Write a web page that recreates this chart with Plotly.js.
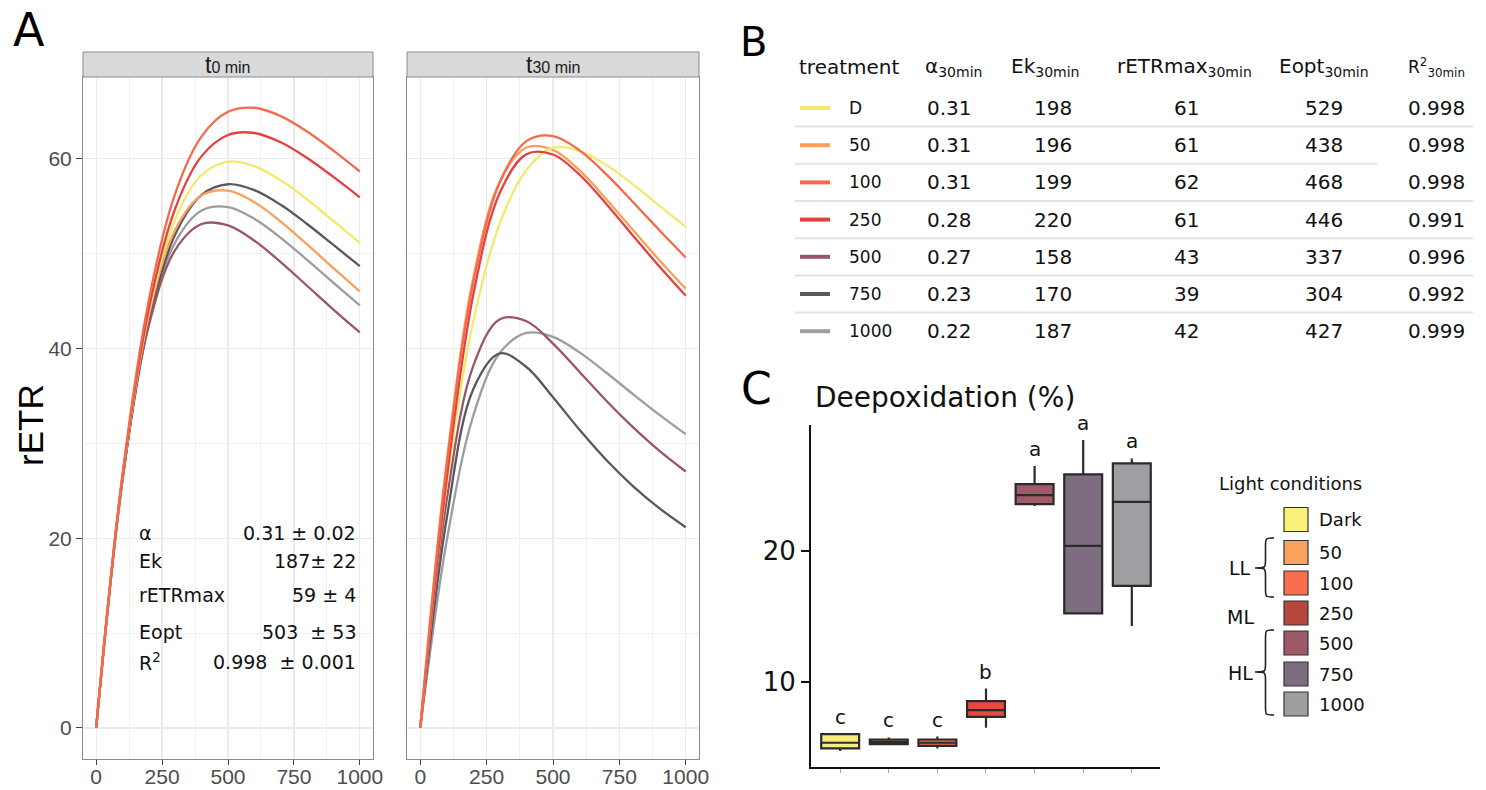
<!DOCTYPE html>
<html>
<head>
<meta charset="utf-8">
<script src="https://cdn.plot.ly/plotly-3.0.1.min.js"></script>
<style>html,body{margin:0;padding:0;background:#fff;}#chart{width:1486px;height:790px;}</style>
</head>
<body>
<div id="chart"></div>
<script>
// ---------- DATA ----------
// Panel A: light curves (rETR vs irradiance)
const irradiance = [0, 100, 200, 300, 400, 500, 600, 700, 800, 900, 1000];
const treatments = ['D', '50', '100', '250', '500', '750', '1000'];
const t0_D    = [0, 26.50, 43.83, 53.64, 58.27, 59.68, 59.21, 57.71, 55.69, 53.43, 51.11];
const t0_50   = [0, 26.58, 43.55, 52.51, 56.13, 56.62, 55.41, 53.36, 50.96, 48.46, 46.00];
const t0_100  = [0, 26.81, 45.14, 56.34, 62.35, 64.93, 65.36, 64.48, 62.86, 60.84, 58.64];
const t0_250  = [0, 26.51, 44.22, 54.76, 60.26, 62.49, 62.70, 61.72, 60.07, 58.07, 55.92];
const t0_500  = [0, 26.30, 42.44, 50.38, 53.11, 52.96, 51.35, 49.09, 46.60, 44.09, 41.69];
const t0_750  = [0, 26.18, 42.85, 52.02, 56.18, 57.30, 56.68, 55.13, 53.11, 50.90, 48.66];
const t0_1000 = [0, 26.27, 42.70, 51.19, 54.53, 54.89, 53.66, 51.65, 49.32, 46.91, 44.54];
const t30_D    = [0, 25.80, 42.90, 53.20, 58.80, 61.15, 60.79, 59.34, 57.32, 55.04, 52.80];
const t30_50   = [0, 28.17, 47.51, 57.62, 61.17, 60.92, 58.75, 55.75, 52.52, 49.32, 46.30];
const t30_100  = [0, 27.82, 46.97, 57.52, 61.84, 62.38, 60.87, 58.37, 55.46, 52.48, 49.58];
const t30_250  = [0, 26.36, 45.71, 56.43, 60.46, 60.43, 58.30, 55.25, 51.93, 48.65, 45.55];
const t30_500  = [0, 24.10, 38.19, 43.08, 42.86, 40.51, 37.52, 34.51, 31.73, 29.23, 27.03];
const t30_750  = [0, 22.15, 35.73, 39.48, 38.04, 34.85, 31.42, 28.27, 25.52, 23.17, 21.16];
const t30_1000 = [0, 19.78, 32.95, 39.54, 41.63, 41.22, 39.58, 37.46, 35.21, 33.02, 30.96];
const statLabels = ['α', 'Ek', 'rETRmax', 'Eopt', 'R<sup>2</sup>'];
const statValues = ['0.31 ± 0.02', '187± 22', '59 ± 4', '503\u00a0\u00a0± 53', '0.998\u00a0\u00a0± 0.001'];

// Panel B: table
const alpha30  = [0.31, 0.31, 0.31, 0.28, 0.27, 0.23, 0.22];
const ek30     = [198, 196, 199, 220, 158, 170, 187];
const retrmax30 = [61, 61, 62, 61, 43, 39, 42];
const eopt30   = [529, 438, 468, 446, 337, 304, 427];
const r2_30    = [0.998, 0.998, 0.998, 0.991, 0.996, 0.992, 0.999];

// Panel C: deepoxidation boxplots
const lightConditions = ['Dark', '50', '100', '250', '500', '750', '1000'];
const deQ1     = [4.92, 5.24, 5.11, 7.33, 23.56, 15.22, 17.33];
const deMedian = [5.35, 5.42, 5.35, 7.84, 24.25, 20.38, 23.74];
const deQ3     = [6.01, 5.60, 5.60, 8.53, 25.09, 25.83, 26.67];
const deLow    = [4.73, 5.24, 4.92, 6.49, 23.41, 15.22, 14.27];
const deHigh   = [6.01, 5.76, 5.82, 9.49, 26.47, 28.45, 27.05];
const sigLetters = ['c', 'c', 'c', 'b', 'a', 'a', 'a'];

// ---------- STYLE ----------
const W = 1486, H = 790;
const fx = p => p / W;
const fy = p => 1 - p / H;
const lineColors = ['#F3E96A', '#F8A15C', '#F46A4C', '#E5403F', '#9B5565', '#58585E', '#9D9DA1'];
const boxColors  = ['#F7EE7E', '#F8A25F', '#F7704F', '#E8483F', '#A15A69', '#7E6D80', '#9E9EA3'];
const keyColors  = ['#FAF07A', '#F9A35E', '#F86F4F', '#B4473E', '#9E5A68', '#7D6D7E', '#9E9EA2'];
const t0Series  = [t0_D, t0_50, t0_100, t0_250, t0_500, t0_750, t0_1000];
const t30Series = [t30_D, t30_50, t30_100, t30_250, t30_500, t30_750, t30_1000];
const FA = 'Liberation Sans, Arial, sans-serif';
const FD = 'DejaVu Sans, sans-serif';

const traces = [];
const drawOrder = [6, 5, 4, 1, 0, 3, 2];
drawOrder.forEach(i => {
  traces.push({type: 'scatter', mode: 'lines', x: irradiance, y: t0Series[i], xaxis: 'x', yaxis: 'y',
    line: {color: lineColors[i], width: 2.3, shape: 'spline', smoothing: 1}, hoverinfo: 'skip', name: treatments[i]});
  traces.push({type: 'scatter', mode: 'lines', x: irradiance, y: t30Series[i], xaxis: 'x2', yaxis: 'y2',
    line: {color: lineColors[i], width: 2.3, shape: 'spline', smoothing: 1}, hoverinfo: 'skip', name: treatments[i]});
});
lightConditions.forEach((c, i) => {
  traces.push({type: 'box', x: [i], q1: [deQ1[i]], median: [deMedian[i]], q3: [deQ3[i]],
    lowerfence: [deLow[i]], upperfence: [deHigh[i]], xaxis: 'x3', yaxis: 'y3',
    fillcolor: boxColors[i], line: {color: '#2B2B2B', width: 2.2}, width: 0.78, whiskerwidth: 0,
    boxpoints: false, hoverinfo: 'skip', name: c});
});

const gridA = {showgrid: true, gridcolor: '#EBEBEB', gridwidth: 1.3, zeroline: false,
  showline: true, mirror: true, linecolor: '#8A8A8A', linewidth: 1,
  ticks: 'outside', ticklen: 6, tickcolor: '#444', tickwidth: 1,
  tickfont: {family: FA, size: 21, color: '#4D4D4D'}};

const layout = {
  width: W, height: H, margin: {l: 0, r: 0, t: 0, b: 0},
  paper_bgcolor: '#fff', plot_bgcolor: '#fff', showlegend: false, boxmode: 'overlay',
  xaxis: Object.assign({}, gridA, {domain: [fx(83), fx(373)], range: [-50, 1050], anchor: 'y', ticklen: 5,
    ticklabelstandoff: -6,
    tickvals: [0, 250, 500, 750, 1000], minor: {dtick: 125, tick0: 0, showgrid: true, gridcolor: '#F1F1F1', gridwidth: 1}}),
  yaxis: Object.assign({}, gridA, {domain: [fy(759), fy(77)], range: [-3.27, 68.6], anchor: 'x',
    tickvals: [0, 20, 40, 60], minor: {dtick: 10, tick0: 0, showgrid: true, gridcolor: '#F1F1F1', gridwidth: 1}}),
  xaxis2: Object.assign({}, gridA, {domain: [fx(407), fx(699)], range: [-50, 1050], anchor: 'y2', ticklen: 5,
    ticklabelstandoff: -6,
    tickvals: [0, 250, 500, 750, 1000], minor: {dtick: 125, tick0: 0, showgrid: true, gridcolor: '#F1F1F1', gridwidth: 1}}),
  yaxis2: Object.assign({}, gridA, {domain: [fy(759), fy(77)], range: [-3.27, 68.6], anchor: 'x2',
    tickvals: [0, 20, 40, 60], ticks: '', showticklabels: false,
    minor: {dtick: 10, tick0: 0, showgrid: true, gridcolor: '#F1F1F1', gridwidth: 1}}),
  xaxis3: {domain: [fx(811), fx(1160)], range: [-0.6, 6.58], anchor: 'y3', showgrid: false, zeroline: false,
    showline: true, linecolor: '#111', linewidth: 2, tickvals: [0, 1, 2, 3, 4, 5, 6], ticks: 'outside',
    ticklen: 4, tickcolor: '#AAA', showticklabels: false},
  yaxis3: {domain: [fy(767), fy(425)], range: [3.5, 29.6], anchor: 'x3', showgrid: false, zeroline: false,
    showline: true, linecolor: '#111', linewidth: 2, tickvals: [10, 20], ticks: 'outside', ticklen: 8,
    tickwidth: 2, tickcolor: '#111', tickfont: {family: FD, size: 26, color: '#111'}},
  shapes: [], annotations: []
};

function ann(text, x, y, o) {
  layout.annotations.push(Object.assign({text: text, x: fx(x), y: fy(y), xref: 'paper', yref: 'paper',
    showarrow: false, xanchor: 'center', yanchor: 'middle', font: {family: FD, size: 20, color: '#111'}}, o || {}));
}
function rect(x0, y0, x1, y1, fill, lc, lw) {
  layout.shapes.push({type: 'rect', xref: 'paper', yref: 'paper', x0: fx(x0), x1: fx(x1), y0: fy(y1), y1: fy(y0),
    fillcolor: fill, line: {color: lc, width: lw}, layer: 'above'});
}
function seg(x0, y0, x1, y1, c, w) {
  layout.shapes.push({type: 'line', xref: 'paper', yref: 'paper', x0: fx(x0), x1: fx(x1), y0: fy(y0), y1: fy(y1),
    line: {color: c, width: w}, layer: 'above'});
}
function brace(xr, xt, yTop, yMid, yBot) {
  const xm = (xr + xt) / 2 + 1, r = 8;
  const P = (x, y) => fx(x) + ',' + fy(y);
  const d = 'M ' + P(xr, yTop) + ' C ' + P(xm, yTop) + ' ' + P(xm, yTop) + ' ' + P(xm, yTop + r) +
    ' L ' + P(xm, yMid - r) + ' C ' + P(xm, yMid) + ' ' + P(xm, yMid) + ' ' + P(xt, yMid) +
    ' C ' + P(xm, yMid) + ' ' + P(xm, yMid) + ' ' + P(xm, yMid + r) +
    ' L ' + P(xm, yBot - r) + ' C ' + P(xm, yBot) + ' ' + P(xm, yBot) + ' ' + P(xr, yBot);
  layout.shapes.push({type: 'path', xref: 'paper', yref: 'paper', path: d, line: {color: '#222', width: 1.6}});
}

// ---- Panel A decorations ----
ann('A', 29, 30, {font: {family: FD, size: 46, color: '#000'}});
ann('rETR', 30, 425, {textangle: -90, font: {family: FA, size: 35, color: '#000'}});
rect(83, 52, 373, 77, '#D9D9D9', '#8A8A8A', 1);
rect(407, 52, 699, 77, '#D9D9D9', '#8A8A8A', 1);
ann("t<span style='font-size:16px'>0 min</span>", 228, 65, {font: {family: FA, size: 23, color: '#1A1A1A'}});
ann("t<span style='font-size:16px'>30 min</span>", 553, 65, {font: {family: FA, size: 23, color: '#1A1A1A'}});
const statY = [533, 561, 595, 632, 662];
statLabels.forEach((s, i) => {
  ann(s, 137, statY[i], {xanchor: 'left', font: {family: FD, size: 19, color: '#111'}});
  ann(statValues[i], 358, statY[i], {xanchor: 'right', font: {family: FD, size: 19, color: '#111'}});
});

// ---- Panel B table ----
ann('B', 754, 42, {font: {family: FD, size: 40, color: '#000'}});
ann('treatment', 797, 67, {xanchor: 'left', font: {family: FD, size: 20, color: '#111'}});
const colX = [953, 1045, 1184, 1324, 1436];
const headers = ['α<sub>30min</sub>', 'Ek<sub>30min</sub>', 'rETRmax<sub>30min</sub>', 'Eopt<sub>30min</sub>', 'R<sup>2</sup><sub>30min</sub>'];
headers.forEach((h, j) => ann(h, colX[j], 67, {font: {family: FD, size: j === 4 ? 17 : 20, color: '#111'}}));
const rowY = treatments.map((t, i) => 108 + 37.2 * i);
treatments.forEach((t, i) => {
  const y = rowY[i];
  seg(800, y, 830, y, lineColors[i], 4);
  ann(t, 847, y, {xanchor: 'left', font: {family: FD, size: 17, color: '#111'}});
  ann(alpha30[i].toFixed(2), colX[0] - 4, y, {});
  ann(String(ek30[i]), 1053, y, {});
  ann(String(retrmax30[i]), 1186, y, {});
  ann(String(eopt30[i]), colX[3], y, {});
  ann(r2_30[i].toFixed(3), colX[4], y, {});
  if (i < treatments.length - 1) {
    const ly = y + 18.6;
    seg(795, ly, i === 1 ? 1377 : 1473, ly, '#E4E4E4', 2);
  }
});

// ---- Panel C ----
ann('C', 756, 389, {font: {family: FD, size: 44, color: '#000'}});
ann('Deepoxidation (%)', 945, 397, {font: {family: FD, size: 28, color: '#111'}});
sigLetters.forEach((l, i) => {
  layout.annotations.push({text: l, x: i, y: deHigh[i], xref: 'x3', yref: 'y3', showarrow: false,
    yanchor: 'bottom', yshift: 3, font: {family: FD, size: 20, color: '#111'}});
});
ann('Light conditions', 1217, 483, {xanchor: 'left', font: {family: FD, size: 18, color: '#111'}});
const keyY = [519.5, 552.5, 583, 613, 643, 674, 704];
lightConditions.forEach((c, i) => {
  rect(1284, keyY[i] - 12, 1308, keyY[i] + 12, keyColors[i], '#333', 1.2);
  ann(c, 1317, keyY[i], {xanchor: 'left', font: {family: FD, size: 18, color: '#111'}});
});
ann('LL', 1240, 568, {font: {family: FD, size: 19, color: '#111'}});
ann('ML', 1240, 617, {font: {family: FD, size: 19, color: '#111'}});
ann('HL', 1240, 673, {font: {family: FD, size: 19, color: '#111'}});
brace(1274, 1255, 538, 568, 597);
brace(1274, 1255, 630, 672, 715);

Plotly.newPlot('chart', traces, layout, {staticPlot: true, displayModeBar: false});
</script>
</body>
</html>
